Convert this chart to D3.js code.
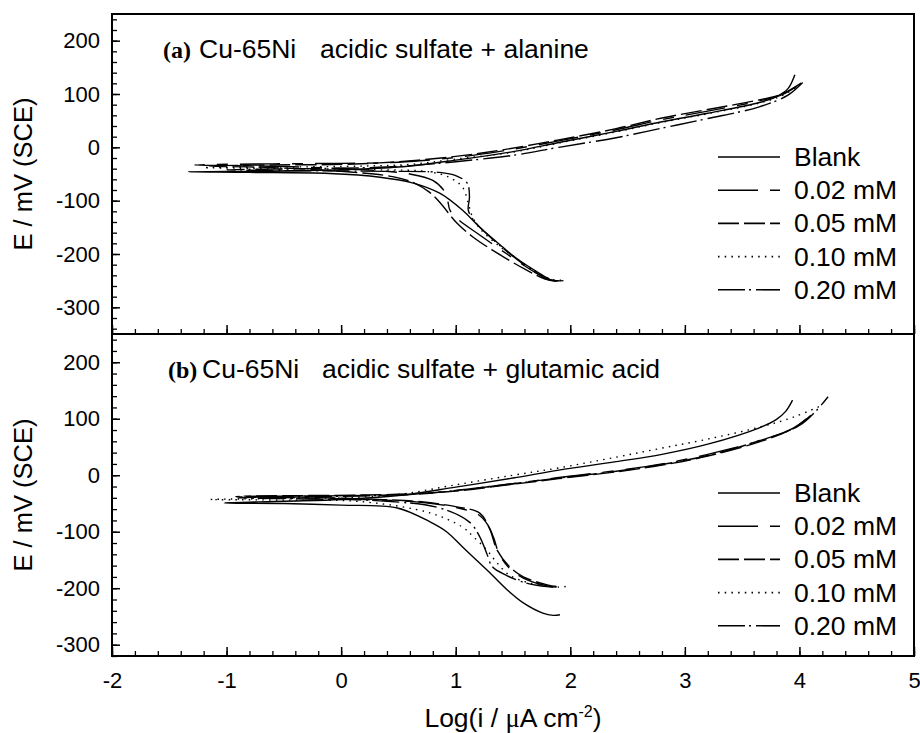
<!DOCTYPE html>
<html lang="en">
  <head>
    <meta charset="UTF-8" />
    <title>Cu-65Ni polarization curves</title>
    <script src="https://d3js.org/d3.v7.min.js"></script>
    <style>
      body {
        margin: 0;
        background: white;
      }
      svg {
        display: block;
        font-family: 'Liberation Sans', Arial, sans-serif;
      }
    </style>
  </head>
  <body>
    <svg width="920" height="733"></svg>

    <script>
      // series labels and dash styles (legend order)
      const seriesNames = ['Blank', '0.02 mM', '0.05 mM', '0.10 mM', '0.20 mM'];
      const dashes = [null, '40,12,11,12', '21,5', '1.5,5.2', '27,4,2,5'];

      // panel (a): [log i, E] in sweep order (cathodic end -> Ecorr -> anodic end)
      const blankA = [
        [1.94, -250], [1.84, -249], [1.70, -232], [1.53, -208], [1.41, -187], [1.21, -150],
        [1.06, -118], [0.86, -86], [0.63, -67], [0.34, -56], [-0.1, -49], [-0.8, -47], [-1.33, -46],
        [-0.8, -45], [0, -42], [0.5, -37], [1.0, -24], [1.5, -8], [1.9, 9], [2.4, 30], [2.8, 48],
        [3.2, 64], [3.65, 84], [3.8, 95], [3.9, 110], [3.96, 136],
      ];
      const ala002 = [
        [1.88, -250], [1.80, -247], [1.6, -222], [1.4, -193], [1.2, -163], [1.02, -135],
        [0.95, -118], [0.93, -100], [0.9, -82], [0.8, -62], [0.6, -50], [0.2, -42], [-0.5, -36], [-1.28, -33],
        [-0.6, -31], [0, -30], [0.5, -28], [1.0, -19], [1.4, -7], [1.9, 12], [2.4, 33], [2.8, 52],
        [3.2, 68], [3.65, 87], [3.85, 99], [4.0, 118],
      ];
      const ala005 = [
        [1.88, -251], [1.78, -247], [1.6, -228], [1.36, -198], [1.15, -168], [1.01, -142],
        [0.86, -103], [0.77, -84], [0.64, -67], [0.45, -55], [0, -45], [-0.6, -38], [-1.15, -35],
        [-0.6, -33], [0, -32], [0.5, -27], [1.0, -17], [1.4, -5], [1.9, 14], [2.4, 35], [2.8, 55],
        [3.2, 71], [3.65, 89], [3.85, 100], [4.02, 121],
      ];
      const ala010 = [
        [1.92, -249], [1.84, -248], [1.7, -233], [1.5, -204], [1.35, -180], [1.21, -152],
        [1.14, -127], [1.11, -105], [1.06, -75], [0.95, -57], [0.77, -46], [0.3, -42], [-0.5, -40], [-1.2, -38],
        [-0.5, -37], [0.2, -35], [0.6, -32], [1.0, -22], [1.5, -9], [1.9, 8], [2.4, 29], [2.8, 47],
        [3.2, 63], [3.65, 83], [3.85, 97], [4.0, 117],
      ];
      const ala020 = [
        [1.9, -250], [1.82, -249], [1.65, -228], [1.39, -185], [1.17, -140], [1.11, -118],
        [1.12, -93], [1.10, -67], [1.0, -53], [0.86, -47], [0.4, -45], [-0.3, -44], [-1.0, -42],
        [-0.3, -40], [0.4, -37], [0.8, -31], [1.0, -27], [1.5, -15], [1.9, 0], [2.4, 18], [2.8, 36],
        [3.2, 54], [3.65, 76], [3.9, 98], [4.03, 122],
      ];

      // panel (b)
      const blankB = [
        [1.91, -247], [1.85, -248], [1.76, -244], [1.59, -226], [1.45, -203], [1.30, -173],
        [1.18, -150], [1.06, -127], [0.92, -100], [0.78, -83], [0.49, -58], [0, -53], [-0.5, -50], [-1.02, -49],
        [-0.5, -46], [0, -43], [0.5, -36], [1.0, -21], [1.5, -5], [1.9, 9], [2.4, 24], [2.8, 37],
        [3.2, 55], [3.65, 84], [3.8, 99], [3.88, 113], [3.94, 133],
      ];
      const glu002 = [
        [1.88, -198], [1.8, -196], [1.59, -182], [1.47, -165], [1.38, -140], [1.33, -110],
        [1.28, -88], [1.2, -70], [1.0, -57], [0.7, -48], [0.2, -43], [-0.4, -40], [-0.92, -38],
        [-0.4, -37], [0.2, -36], [0.6, -34], [1.0, -27], [1.5, -15], [1.9, -4], [2.4, 8], [2.8, 20],
        [3.2, 37], [3.65, 61], [3.95, 84], [4.12, 110],
      ];
      const glu005 = [
        [1.88, -197], [1.8, -194], [1.59, -180], [1.47, -162], [1.36, -132], [1.30, -97],
        [1.21, -67], [1.01, -56], [0.7, -47], [0.2, -42], [-0.3, -39], [-0.85, -37],
        [-0.3, -36], [0.2, -35], [0.6, -33], [1.0, -28], [1.5, -16], [1.9, -6], [2.4, 6], [2.8, 18],
        [3.2, 34], [3.65, 59], [3.95, 83], [4.1, 106],
      ];
      const glu010 = [
        [1.96, -197], [1.9, -198], [1.65, -191], [1.47, -177], [1.36, -155], [1.27, -132],
        [1.15, -108], [1.06, -92], [0.78, -67], [0.19, -47], [-0.5, -44], [-1.14, -43],
        [-0.5, -41], [0, -40], [0.5, -34], [1.0, -17], [1.5, 0], [1.9, 13], [2.4, 32], [2.8, 48],
        [3.2, 64], [3.65, 85], [3.95, 103], [4.2, 124],
      ];
      const glu020 = [
        [1.85, -198], [1.75, -196], [1.6, -190], [1.45, -178], [1.32, -162], [1.27, -138],
        [1.21, -109], [1.12, -83], [0.86, -58], [0.4, -46], [-0.3, -42], [-0.9, -40],
        [-0.3, -38], [0.3, -36], [0.7, -33], [1.0, -27], [1.5, -15], [1.9, -5], [2.4, 7], [2.8, 19],
        [3.2, 35], [3.65, 61], [4.0, 88], [4.15, 115], [4.25, 139],
      ];

      const xTickLabels = [-2, -1, 0, 1, 2, 3, 4, 5];
      const yTickLabels = [-300, -200, -100, 0, 100, 200];

      const panels = [
        {
          tag: '(a)',
          alloy: 'Cu-65Ni',
          text: 'acidic sulfate + alanine',
          series: [blankA, ala002, ala005, ala010, ala020],
          yDomain: [-350, 250],
          top: 14,
          bottom: 334,
          legendTop: 157,
        },
        {
          tag: '(b)',
          alloy: 'Cu-65Ni',
          text: 'acidic sulfate + glutamic acid',
          series: [blankB, glu002, glu005, glu010, glu020],
          yDomain: [-320, 250],
          top: 334,
          bottom: 656,
          legendTop: 493,
        },
      ];

      const left = 112,
        right = 914;
      const plain = (d) => String(d); // hyphen minus, like the original

      const svg = d3.select('svg');

      const x = d3.scaleLinear().domain([-2, 5]).range([left, right]);

      panels.forEach((p, i) => {
        const y = d3.scaleLinear().domain(p.yDomain).range([p.bottom, p.top]);
        const g = svg.append('g');

        // curves
        const line = d3
          .line()
          .x((d) => x(d[0]))
          .y((d) => y(d[1]))
          .curve(d3.curveCatmullRom.alpha(0.5));

        g.selectAll('path.curve')
          .data(p.series)
          .join('path')
          .attr('class', 'curve')
          .attr('d', line)
          .attr('fill', 'none')
          .attr('stroke', '#000')
          .attr('stroke-width', 1.4)
          .attr('stroke-dasharray', (d, k) => dashes[k]);

        // y axis, major + minor ticks pointing inward
        const minorY = d3.range(Math.ceil(p.yDomain[0] / 20) * 20, p.yDomain[1], 20);
        g.append('g')
          .attr('transform', `translate(${left},0)`)
          .call(d3.axisLeft(y).tickValues(minorY).tickSize(-5).tickFormat(''))
          .call((a) => a.select('.domain').remove())
          .selectAll('line')
          .attr('stroke-width', 1.3);

        g.append('g')
          .attr('transform', `translate(${left},0)`)
          .call(
            d3.axisLeft(y).tickValues(yTickLabels).tickSize(-8).tickPadding(12).tickFormat(plain),
          )
          .call((a) => a.select('.domain').remove())
          .call((a) => a.selectAll('line').attr('stroke-width', 1.5))
          .selectAll('text')
          .attr('font-size', 22)
          .attr('font-family', "'Liberation Sans', Arial, sans-serif")
          .attr('fill', '#000');

        // x axis ticks at the panel bottom, pointing up
        const minorX = d3.range(-2, 5.001, 0.2);
        g.append('g')
          .attr('transform', `translate(0,${p.bottom})`)
          .call(d3.axisBottom(x).tickValues(minorX).tickSize(-5).tickFormat(''))
          .call((a) => a.select('.domain').remove())
          .selectAll('line')
          .attr('stroke-width', 1.3);

        const xAxis = g
          .append('g')
          .attr('transform', `translate(0,${p.bottom})`)
          .call(
            d3
              .axisBottom(x)
              .tickValues(xTickLabels)
              .tickSize(-9)
              .tickPadding(16)
              .tickFormat(i === 1 ? plain : ''),
          )
          .call((a) => a.select('.domain').remove())
          .call((a) => a.selectAll('line').attr('stroke-width', 1.5));
        xAxis
          .selectAll('text')
          .attr('font-size', 22)
          .attr('font-family', "'Liberation Sans', Arial, sans-serif")
          .attr('fill', '#000');

        // frame
        g.append('rect')
          .attr('x', left)
          .attr('y', p.top)
          .attr('width', right - left)
          .attr('height', p.bottom - p.top)
          .attr('fill', 'none')
          .attr('stroke', '#000')
          .attr('stroke-width', 2);

        // panel title
        const t = g.append('text').attr('y', p.top + 44).attr('font-size', 26.5);
        t.append('tspan')
          .attr('x', left + 51 + i * 5)
          .attr('font-family', "'Liberation Serif', 'Times New Roman', serif")
          .attr('font-weight', 'bold')
          .attr('font-size', 24)
          .text(p.tag);
        t.append('tspan').attr('x', left + 87 + i * 3).text(p.alloy);
        t.append('tspan').attr('x', left + 208 + i * 2).text(p.text);

        // y axis title
        svg
          .append('text')
          .attr('transform', `translate(32,${(p.top + p.bottom) / 2}) rotate(-90)`)
          .attr('text-anchor', 'middle')
          .attr('font-size', 25.5)
          .text('E / mV (SCE)');

        // legend
        const leg = g
          .selectAll('g.leg')
          .data(seriesNames)
          .join('g')
          .attr('class', 'leg')
          .attr('transform', (d, k) => `translate(718,${p.legendTop + k * 33.2})`);
        leg
          .append('line')
          .attr('x1', 0)
          .attr('x2', 62)
          .attr('stroke', '#000')
          .attr('stroke-width', 1.6)
          .attr('stroke-dasharray', (d, k) => dashes[k]);
        leg
          .append('text')
          .attr('x', 76)
          .attr('y', 9)
          .attr('font-size', 26.5)
          .text((d) => d);
      });

      // x axis title
      const xt = svg
        .append('text')
        .attr('x', (left + right) / 2)
        .attr('y', 727)
        .attr('text-anchor', 'middle')
        .attr('font-size', 26.5);
      xt.append('tspan').text('Log(i / ');
      xt.append('tspan')
        .attr('font-family', "'Liberation Serif', 'Times New Roman', serif")
        .text('\u03bc');
      xt.append('tspan').text('A cm');
      xt.append('tspan').attr('dy', -10).attr('font-size', 16).text('-2');
      xt.append('tspan').attr('dy', 10).text(')');
    </script>
  </body>
</html>
